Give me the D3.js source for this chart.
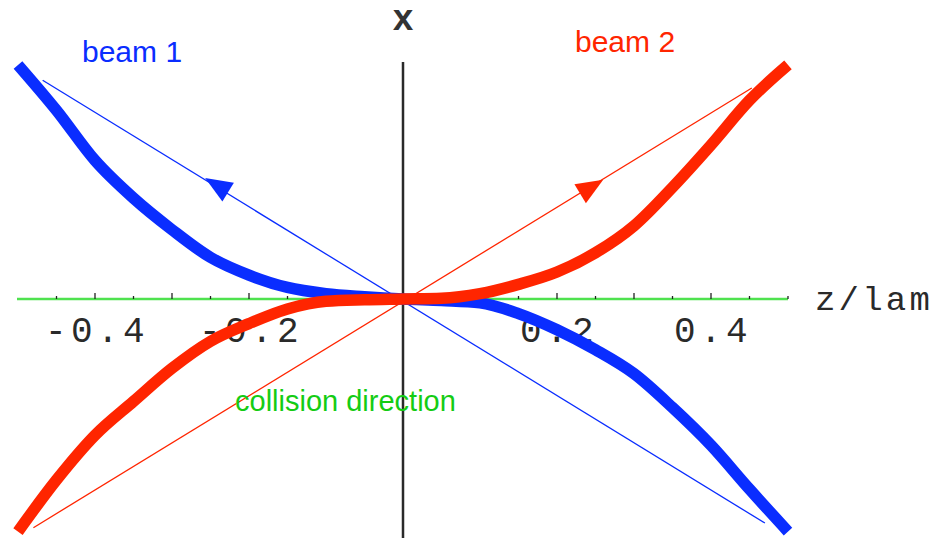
<!DOCTYPE html>
<html>
<head>
<meta charset="utf-8">
<script src="https://cdn.jsdelivr.net/npm/d3@7/dist/d3.min.js"></script>
<style>
  html, body { margin: 0; padding: 0; background: #ffffff; }
  svg { display: block; }
</style>
</head>
<body>
<svg id="chart" width="945" height="538"></svg>
<script>
// Longitudinal position z/lam sampled every 0.05
const zGrid = [-0.5, -0.45, -0.4, -0.35, -0.3, -0.25, -0.2, -0.15, -0.1, -0.05, 0,
               0.05, 0.1, 0.15, 0.2, 0.25, 0.3, 0.35, 0.4, 0.45, 0.5];

// Transverse offset x of each beam's trajectory
const beam1Path = [0.304, 0.245, 0.180, 0.131, 0.090, 0.054, 0.031, 0.015, 0.007, 0.003, 0,
                   -0.002, -0.005, -0.019, -0.040, -0.066, -0.097, -0.141, -0.190, -0.247, -0.302];
const beam2Path = [-0.302, -0.235, -0.177, -0.133, -0.090, -0.055, -0.032, -0.013, -0.003, -0.001, 0,
                   0.001, 0.007, 0.019, 0.035, 0.060, 0.095, 0.145, 0.200, 0.258, 0.304];

// Straight chords (z, x) showing each beam's nominal direction
const beam1ChordZ = [-0.468, 0.47];
const beam1ChordX = [0.284, -0.291];
const beam2ChordZ = [-0.48, 0.453];
const beam2ChordX = [-0.297, 0.274];

// Arrow tips on the chords (z, x)
const beam1Arrow = [-0.257, 0.157];
const beam2Arrow = [0.26, 0.155];

// Horizontal axis ticks
const majorTicks = [-0.4, -0.3, -0.2, -0.1, 0.1, 0.2, 0.3, 0.4];
const minorTicks = [-0.45, -0.35, -0.25, -0.15, -0.05, 0.05, 0.15, 0.25, 0.35, 0.45, 0.5];
const tickLabels = [-0.4, -0.2, 0.2, 0.4];

const BLUE = "#0a2dff";
const RED = "#ff2500";
const GREEN_LINE = "#4fe24f";
const GREEN_TEXT = "#14cc14";

const svg = d3.select("#chart");

const xScale = d3.scaleLinear().domain([-0.5, 0.5]).range([18, 788]);
const yScale = d3.scaleLinear().domain([-0.3, 0.3]).range([530, 68]);

const monoFont = "'Courier New', 'Liberation Mono', monospace";

// Collision direction (z axis)
svg.append("line")
  .attr("x1", xScale(-0.5) - 1).attr("x2", xScale(0.5))
  .attr("y1", yScale(0)).attr("y2", yScale(0))
  .attr("stroke", GREEN_LINE).attr("stroke-width", 2.5);

// Ticks drawn upward from the axis
svg.append("g").selectAll("line.major").data(majorTicks).join("line")
  .attr("x1", d => xScale(d)).attr("x2", d => xScale(d))
  .attr("y1", yScale(0)).attr("y2", yScale(0) - 6)
  .attr("stroke", "#222").attr("stroke-width", 1.3);
svg.append("g").selectAll("line.minor").data(minorTicks).join("line")
  .attr("x1", d => xScale(d)).attr("x2", d => xScale(d))
  .attr("y1", yScale(0)).attr("y2", yScale(0) - 3)
  .attr("stroke", "#222").attr("stroke-width", 1.3);

// Tick labels
const fmt = d => (d < 0 ? "-" : "") + Math.abs(d).toFixed(1);
svg.append("g").selectAll("text").data(tickLabels).join("text")
  .attr("x", d => xScale(d) + 2)
  .attr("y", yScale(0) + 43)
  .attr("text-anchor", "middle")
  .attr("font-family", monoFont)
  .attr("font-size", 36)
  .attr("letter-spacing", 4.4)
  .attr("fill", "#2a2a2a")
  .text(fmt);

// Vertical x axis
svg.append("line")
  .attr("x1", xScale(0)).attr("x2", xScale(0))
  .attr("y1", 62).attr("y2", 538)
  .attr("stroke", "#2a2a2a").attr("stroke-width", 2.5);

// Axis names
svg.append("text")
  .attr("x", xScale(0)).attr("y", 30)
  .attr("text-anchor", "middle")
  .attr("font-family", monoFont)
  .attr("font-size", 36).attr("font-weight", "bold")
  .attr("fill", "#333")
  .text("x");
svg.append("text")
  .attr("x", 815).attr("y", 310)
  .attr("font-family", monoFont)
  .attr("font-size", 34)
  .attr("letter-spacing", 3.2)
  .attr("fill", "#2a2a2a")
  .text("z/lam");

// Thin direction chords and arrowheads
function chord(zs, xs, color) {
  svg.append("line")
    .attr("x1", xScale(zs[0])).attr("y1", yScale(xs[0]))
    .attr("x2", xScale(zs[1])).attr("y2", yScale(xs[1]))
    .attr("stroke", color).attr("stroke-width", 1.3);
}
function arrowHead(tip, zs, xs, towardStart, color) {
  const tx = xScale(tip[0]), ty = yScale(tip[1]);
  let dx = xScale(zs[0]) - xScale(zs[1]);
  let dy = yScale(xs[0]) - yScale(xs[1]);
  if (!towardStart) { dx = -dx; dy = -dy; }
  const len = Math.hypot(dx, dy);
  const ux = dx / len, uy = dy / len;
  const L = 27, W = 11;
  const bx = tx - ux * L, by = ty - uy * L;
  const pts = [[tx, ty], [bx - uy * W, by + ux * W], [bx + uy * W, by - ux * W]];
  svg.append("path")
    .attr("d", d3.line()(pts) + "Z")
    .attr("fill", color);
}
chord(beam1ChordZ, beam1ChordX, BLUE);
chord(beam2ChordZ, beam2ChordX, RED);
arrowHead(beam1Arrow, beam1ChordZ, beam1ChordX, true, BLUE);
arrowHead(beam2Arrow, beam2ChordZ, beam2ChordX, false, RED);

// Beam trajectories
const path = d3.line()
  .x((d, i) => xScale(zGrid[i]))
  .y(d => yScale(d))
  .curve(d3.curveMonotoneX);

svg.append("path")
  .attr("d", path(beam1Path))
  .attr("fill", "none").attr("stroke", BLUE)
  .attr("stroke-width", 11.5).attr("stroke-linejoin", "round");
svg.append("path")
  .attr("d", path(beam2Path))
  .attr("fill", "none").attr("stroke", RED)
  .attr("stroke-width", 11.5).attr("stroke-linejoin", "round");

// Labels
svg.append("text")
  .attr("x", 82).attr("y", 62)
  .attr("font-family", "Arial, 'Liberation Sans', Helvetica, sans-serif")
  .attr("font-size", 30).attr("fill", BLUE)
  .text("beam 1");
svg.append("text")
  .attr("x", 575).attr("y", 52)
  .attr("font-family", "Arial, 'Liberation Sans', Helvetica, sans-serif")
  .attr("font-size", 30).attr("fill", RED)
  .text("beam 2");
svg.append("text")
  .attr("x", 235).attr("y", 411)
  .attr("font-family", "Arial, 'Liberation Sans', Helvetica, sans-serif")
  .attr("font-size", 29).attr("fill", GREEN_TEXT)
  .text("collision direction");
</script>
</body>
</html>
